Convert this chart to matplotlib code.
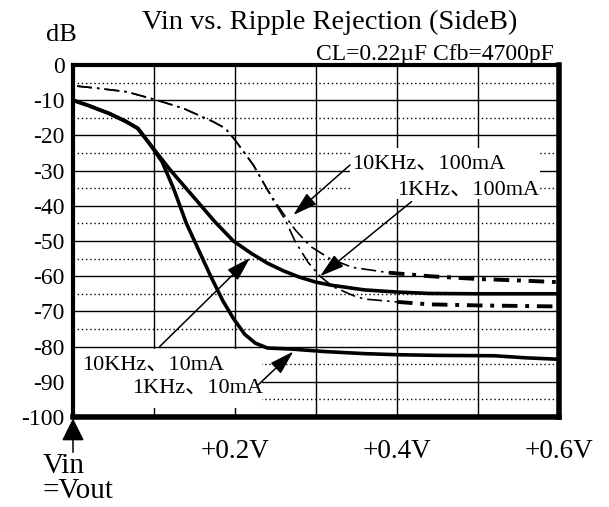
import matplotlib
matplotlib.use("Agg")
import matplotlib.pyplot as plt
from matplotlib.patches import Rectangle

plt.rcParams["font.family"] = ["Liberation Serif", "Noto Sans CJK JP"]

# ---- data (Vin - Vout in V, ripple rejection in dB) ----
# 1KHz, 10mA
v_1k_10 = [0.0, 0.02, 0.045, 0.065, 0.08, 0.095, 0.11, 0.124, 0.14, 0.155, 0.17,
           0.185, 0.198, 0.212, 0.225, 0.24, 0.27, 0.31, 0.36, 0.40, 0.45, 0.52, 0.56, 0.60]
db_1k_10 = [-10.0, -11.6, -13.8, -16.0, -18.0, -22.5, -27.5, -35.0, -45.0, -52.5, -60.0,
            -67.0, -72.0, -76.5, -79.0, -80.4, -80.7, -81.4, -82.0, -82.3, -82.5, -82.6, -83.2, -83.6]

# 10KHz, 10mA
v_10k_10 = [0.0, 0.02, 0.045, 0.065, 0.08, 0.095, 0.12, 0.15, 0.175, 0.198, 0.22, 0.24,
            0.26, 0.28, 0.30, 0.32, 0.36, 0.40, 0.44, 0.50, 0.60]
db_10k_10 = [-10.0, -11.6, -13.8, -16.0, -18.0, -22.5, -29.8, -37.8, -44.5, -50.0, -53.5, -56.3,
             -58.5, -60.3, -61.7, -62.6, -63.9, -64.5, -64.9, -65.0, -65.0]

# 10KHz, 100mA
v_10k_100 = [0.005, 0.03, 0.066, 0.101, 0.136, 0.173, 0.188, 0.20, 0.2226, 0.239, 0.25,
             0.262, 0.275, 0.293, 0.317, 0.345, 0.39, 0.44, 0.50, 0.55, 0.60]
db_10k_100 = [-6.0, -6.6, -7.6, -9.8, -12.3, -16.1, -18.0, -21.3, -28.4, -35.0, -39.0,
              -43.0, -47.0, -51.5, -55.0, -57.5, -59.0, -60.0, -60.8, -61.2, -61.7]

# 1KHz, 100mA
v_1k_100 = [0.005, 0.03, 0.066, 0.101, 0.136, 0.173, 0.188, 0.20, 0.2226, 0.239, 0.25,
            0.262, 0.274, 0.29, 0.305, 0.321, 0.346, 0.36, 0.40, 0.44, 0.50, 0.60]
db_1k_100 = [-6.0, -6.6, -7.6, -9.8, -12.3, -16.1, -18.0, -21.3, -28.4, -35.0, -39.5,
             -44.0, -50.0, -56.0, -60.0, -63.0, -65.5, -66.5, -67.3, -68.0, -68.3, -68.6]

y_ticks = list(range(-100, 1, 10))
y_minor = list(range(-95, 0, 10))
x_ticks = [0.0, 0.1, 0.2, 0.3, 0.4, 0.5, 0.6]
x_labels = ["", "", "+0.2V", "", "+0.4V", "", "+0.6V"]

fig = plt.figure(figsize=(6.09, 5.07), dpi=100)
ax = fig.add_axes([73 / 609, 1 - 417 / 507, 486 / 609, 352 / 507])
ax.set_xlim(0, 0.6)
ax.set_ylim(-100, 0)

ax.set_xticks(x_ticks)
ax.set_xticklabels(x_labels, fontsize=19.5)
ax.set_yticks(y_ticks)
ax.set_yticklabels([str(t) for t in y_ticks], fontsize=17)
ax.set_yticks(y_minor, minor=True)
ax.tick_params(axis="both", which="both", length=0)
ax.tick_params(axis="x", pad=16)
ax.tick_params(axis="y", pad=6)

ax.grid(True, which="major", color="black", lw=1.0)
ax.grid(True, which="minor", axis="y", color="black", lw=1.0, ls=(0, (1, 2)))
ax.set_axisbelow(True)

for side in ["left", "top"]:
    ax.spines[side].set_linewidth(3.0)
for side in ["right", "bottom"]:
    ax.spines[side].set_linewidth(4.0)

# white backgrounds behind the label groups
ax.add_patch(Rectangle((0.002, -97.5), 0.231, 16.8, facecolor="white",
                       edgecolor="none", zorder=1.5))
ax.add_patch(Rectangle((0.342, -38.0), 0.235, 14.5, facecolor="white",
                       edgecolor="none", zorder=1.5))


def dashdot(v, db, split, lw_thin=1.2, lw_thick=2.8):
    thin_v = [a for a in v if a <= split]
    thin_d = db[:len(thin_v)]
    thick_v = v[len(thin_v) - 1:]
    thick_d = db[len(thin_v) - 1:]
    ax.plot(thin_v, thin_d, color="black", lw=lw_thin,
            ls=(0, (9, 3, 1.5, 3)), zorder=3)
    ax.plot(thick_v, thick_d, color="black", lw=lw_thick,
            ls=(0, (4, 2, 1, 2)), zorder=3)


ax.plot(v_1k_10, db_1k_10, color="black", lw=2.6, zorder=3)
ax.plot(v_10k_10, db_10k_10, color="black", lw=2.6, zorder=3)
dashdot(v_10k_100, db_10k_100, 0.39)
dashdot(v_1k_100, db_1k_100, 0.40)

arrow = dict(arrowstyle="-|>,head_length=1.5,head_width=0.45", color="black",
             lw=1.1, mutation_scale=10, shrinkA=0, shrinkB=0)
ax.annotate("", xy=(0.272, -42.6), xytext=(0.342, -28.4), arrowprops=arrow, zorder=4)
ax.annotate("", xy=(0.305, -60.0), xytext=(0.418, -38.8), arrowprops=arrow, zorder=4)
ax.annotate("", xy=(0.2185, -54.8), xytext=(0.107, -80.0), arrowprops=arrow, zorder=4)
ax.annotate("", xy=(0.272, -81.4), xytext=(0.229, -90.8), arrowprops=arrow, zorder=4)

lab = dict(fontsize=16, va="center", ha="left", zorder=5)
ax.text(0.345, -28.2, "10KHz、100mA", **lab)
ax.text(0.40, -35.5, "1KHz、100mA", **lab)
ax.text(0.0107, -85.2, "10KHz、10mA", **lab)
ax.text(0.0724, -91.8, "1KHz、10mA", **lab)

ax.text(0.99, 1.0, "CL=0.22µF Cfb=4700pF", transform=ax.transAxes,
        ha="right", va="bottom", fontsize=17)

# Vin = Vout marker below the origin
vin_arrow = dict(arrowstyle="-|>,head_length=1.4,head_width=0.7", color="black",
                 lw=1.1, mutation_scale=10, shrinkA=0, shrinkB=0)
ax.annotate("", xy=(0, -0.004), xycoords="axes fraction", xytext=(0, -0.1),
            arrowprops=vin_arrow, annotation_clip=False)
fig.text(43 / 609, 1 - 466 / 507, "Vin", fontsize=21, ha="left", va="center")
fig.text(43 / 609, 1 - 491 / 507, "=Vout", fontsize=21, ha="left", va="center")

fig.text(330 / 609, 1 - 22 / 507, "Vin vs. Ripple Rejection (SideB)",
         fontsize=20.5, ha="center", va="center")
fig.text(61 / 609, 1 - 35 / 507, "dB", fontsize=19, ha="center", va="center")

fig.savefig("out.png", dpi=100)
